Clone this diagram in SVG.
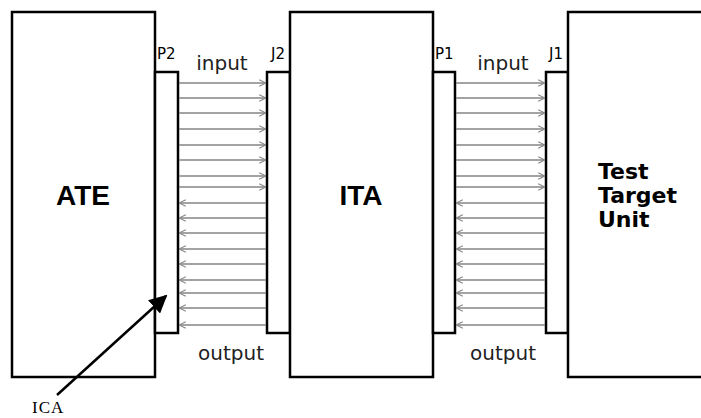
<svg xmlns="http://www.w3.org/2000/svg" width="701" height="418" viewBox="0 0 701 418">
  <style>
    .box { fill: #fff; stroke: #000; stroke-width: 2.5; }
    .wire { stroke: #858585; stroke-width: 1.6; fill: none; }
    .big { font-family: "Liberation Sans", Arial, sans-serif; font-weight: bold; font-size: 28px; fill: #000; }
    .ttu { font-family: "DejaVu Sans", sans-serif; font-weight: bold; font-size: 22px; fill: #000; }
    .lbl { font-family: "DejaVu Sans", sans-serif; font-size: 20px; fill: #222; }
    .pin { font-family: "DejaVu Sans", sans-serif; font-size: 15px; fill: #000; }
    .ica { font-family: "Liberation Serif", "Times New Roman", serif; font-size: 17px; fill: #000; letter-spacing: 1px; }
  </style>
  <defs>
    <marker id="open" viewBox="0 0 10 10" refX="9.5" refY="5" markerWidth="8" markerHeight="8" markerUnits="userSpaceOnUse" orient="auto">
      <path d="M1,1 L9.5,5 L1,9" fill="none" stroke="#858585" stroke-width="1.4"/>
    </marker>
    <marker id="solid" viewBox="0 0 10 10" refX="9" refY="5" markerWidth="18" markerHeight="18" markerUnits="userSpaceOnUse" orient="auto">
      <path d="M0,0 L10,5 L0,10 Z" fill="#000"/>
    </marker>
  </defs>

  <g id="ATE">
    <rect class="box" x="12" y="12" width="143" height="365"/>
    <text class="big" x="83" y="205" text-anchor="middle">ATE</text>
  </g>
  <g id="P2">
    <rect class="box" x="155" y="72" width="23" height="261"/>
    <text class="pin" x="157" y="59">P2</text>
  </g>
  <g id="J2">
    <rect class="box" x="267" y="72" width="23" height="261"/>
    <text class="pin" x="271" y="59">J2</text>
  </g>
  <g id="ITA">
    <rect class="box" x="290" y="12" width="143" height="365"/>
    <text class="big" x="361" y="205" text-anchor="middle">ITA</text>
  </g>
  <g id="P1">
    <rect class="box" x="433" y="72" width="22" height="261"/>
    <text class="pin" x="435" y="59">P1</text>
  </g>
  <g id="J1">
    <rect class="box" x="546" y="72" width="22" height="261"/>
    <text class="pin" x="549" y="59">J1</text>
  </g>
  <g id="TTU">
    <path class="box" d="M706,12 L568,12 L568,377 L706,377"/>
    <text class="ttu" x="598" y="179">Test</text>
    <text class="ttu" x="598" y="203">Target</text>
    <text class="ttu" x="598" y="227">Unit</text>
  </g>

  <g id="labels">
    <text class="lbl" x="222" y="70" text-anchor="middle">input</text>
    <text class="lbl" x="231" y="360" text-anchor="middle">output</text>
    <text class="lbl" x="503" y="70" text-anchor="middle">input</text>
    <text class="lbl" x="503" y="360" text-anchor="middle">output</text>
  </g>

  <g id="connectors">
    <g id="left-inputs" class="wire" marker-end="url(#open)">
      <line x1="179" y1="83" x2="266" y2="83"/>
      <line x1="179" y1="98" x2="266" y2="98"/>
      <line x1="179" y1="113" x2="266" y2="113"/>
      <line x1="179" y1="129" x2="266" y2="129"/>
      <line x1="179" y1="145" x2="266" y2="145"/>
      <line x1="179" y1="160" x2="266" y2="160"/>
      <line x1="179" y1="176" x2="266" y2="176"/>
      <line x1="179" y1="187" x2="266" y2="187"/>
    </g>
    <g id="left-outputs" class="wire" marker-end="url(#open)">
      <line x1="266" y1="203" x2="179" y2="203"/>
      <line x1="266" y1="218" x2="179" y2="218"/>
      <line x1="266" y1="233" x2="179" y2="233"/>
      <line x1="266" y1="249" x2="179" y2="249"/>
      <line x1="266" y1="264" x2="179" y2="264"/>
      <line x1="266" y1="280" x2="179" y2="280"/>
      <line x1="266" y1="293" x2="179" y2="293"/>
      <line x1="266" y1="308" x2="179" y2="308"/>
      <line x1="266" y1="325" x2="179" y2="325"/>
    </g>
    <g id="right-inputs" class="wire" marker-end="url(#open)">
      <line x1="456" y1="83" x2="545" y2="83"/>
      <line x1="456" y1="98" x2="545" y2="98"/>
      <line x1="456" y1="113" x2="545" y2="113"/>
      <line x1="456" y1="129" x2="545" y2="129"/>
      <line x1="456" y1="145" x2="545" y2="145"/>
      <line x1="456" y1="160" x2="545" y2="160"/>
      <line x1="456" y1="176" x2="545" y2="176"/>
      <line x1="456" y1="187" x2="545" y2="187"/>
    </g>
    <g id="right-outputs" class="wire" marker-end="url(#open)">
      <line x1="545" y1="203" x2="456" y2="203"/>
      <line x1="545" y1="218" x2="456" y2="218"/>
      <line x1="545" y1="233" x2="456" y2="233"/>
      <line x1="545" y1="249" x2="456" y2="249"/>
      <line x1="545" y1="264" x2="456" y2="264"/>
      <line x1="545" y1="280" x2="456" y2="280"/>
      <line x1="545" y1="293" x2="456" y2="293"/>
      <line x1="545" y1="308" x2="456" y2="308"/>
      <line x1="545" y1="325" x2="456" y2="325"/>
    </g>
    <line id="ica-arrow" x1="57" y1="395" x2="166" y2="296" stroke="#000" stroke-width="2.5" marker-end="url(#solid)"/>
  </g>

  <g id="ICA">
    <text class="ica" x="32" y="413">ICA</text>
  </g>
</svg>
